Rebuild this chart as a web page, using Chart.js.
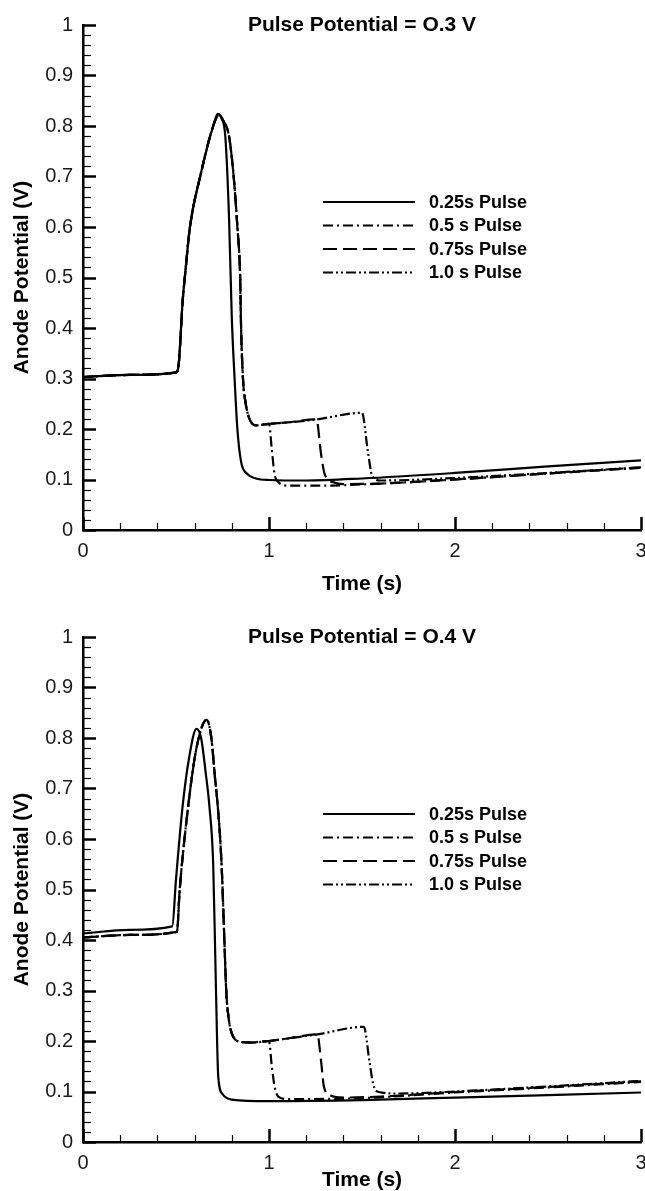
<!DOCTYPE html>
<html>
<head>
<meta charset="utf-8">
<title>Anode Potential</title>
<script src="https://cdn.jsdelivr.net/npm/chart.js@4/dist/chart.umd.min.js"></script>
<style>
  body { margin: 0; background: #fff; }
  .panel { position: absolute; left: 0; width: 645px; }
</style>
</head>
<body>
<div class="panel" style="top:0;height:595px"><canvas id="chart03"></canvas></div>
<div class="panel" style="top:595px;height:596px"><canvas id="chart04"></canvas></div>
<script>
// pulse lengths shown in both panels
const pulseLabels = ['0.25s Pulse', '0.5 s Pulse', '0.75s Pulse', '1.0 s Pulse'];

// axis marks
const timeMajor = [0, 1, 2, 3];
const timeMinorStep = 0.2;
const potMinorStep = 0.02;

// Pulse potential = 0.3 V  ->  [time (s), anode potential (V)]
const p03_025 = [[0,0.303],[0.25,0.307],[0.5,0.312],[0.515,0.33],[0.535,0.45],[0.55,0.51],[0.575,0.6],
  [0.63,0.7],[0.70,0.80],[0.725,0.824],[0.745,0.815],[0.765,0.78],[0.785,0.62],[0.80,0.42],[0.815,0.3],
  [0.83,0.2],[0.85,0.135],[0.88,0.112],[0.93,0.102],[1.0,0.099],[1.2,0.098],[1.5,0.102],[2.0,0.113],
  [2.5,0.126],[3.0,0.138]];
const p03_050 = [[0,0.303],[0.25,0.307],[0.5,0.312],[0.515,0.33],[0.535,0.45],[0.55,0.51],[0.575,0.6],
  [0.63,0.7],[0.70,0.80],[0.73,0.822],[0.755,0.81],[0.785,0.78],[0.81,0.70],[0.83,0.6],[0.845,0.5],
  [0.85,0.4],[0.86,0.3],[0.875,0.25],[0.895,0.22],[0.93,0.207],[1.0,0.21],[1.015,0.16],[1.03,0.11],
  [1.05,0.095],[1.1,0.088],[1.3,0.088],[1.6,0.092],[2.0,0.1],[2.5,0.112],[3.0,0.123]];
const p03_075 = [[0,0.303],[0.25,0.307],[0.5,0.312],[0.515,0.33],[0.535,0.45],[0.55,0.51],[0.575,0.6],
  [0.63,0.7],[0.70,0.80],[0.73,0.822],[0.755,0.81],[0.785,0.78],[0.81,0.70],[0.83,0.6],[0.845,0.5],
  [0.85,0.4],[0.86,0.3],[0.875,0.25],[0.895,0.22],[0.93,0.207],[1.0,0.21],[1.1,0.213],[1.255,0.219],
  [1.28,0.15],[1.30,0.11],[1.35,0.094],[1.4,0.091],[1.6,0.092],[2.0,0.1],[2.5,0.112],[3.0,0.124]];
const p03_100 = [[0,0.303],[0.25,0.307],[0.5,0.312],[0.515,0.33],[0.535,0.45],[0.55,0.51],[0.575,0.6],
  [0.63,0.7],[0.70,0.80],[0.73,0.822],[0.755,0.81],[0.785,0.78],[0.81,0.70],[0.83,0.6],[0.845,0.5],
  [0.85,0.4],[0.86,0.3],[0.875,0.25],[0.895,0.22],[0.93,0.207],[1.0,0.21],[1.1,0.213],[1.255,0.219],
  [1.5,0.232],[1.53,0.16],[1.555,0.107],[1.6,0.098],[2.0,0.103],[2.5,0.113],[3.0,0.124]];

// Pulse potential = 0.4 V
const p04_025 = [[0,0.413],[0.25,0.42],[0.48,0.427],[0.50,0.52],[0.535,0.663],[0.57,0.76],[0.61,0.818],
  [0.635,0.80],[0.66,0.73],[0.68,0.663],[0.70,0.55],[0.715,0.3],[0.727,0.13],[0.75,0.095],[0.8,0.084],
  [1.0,0.081],[1.5,0.083],[2.0,0.088],[2.5,0.093],[3.0,0.098]];
const p04_050 = [[0,0.405],[0.25,0.41],[0.505,0.416],[0.52,0.5],[0.565,0.663],[0.61,0.78],[0.665,0.836],
  [0.69,0.8],[0.71,0.72],[0.725,0.663],[0.745,0.55],[0.76,0.4],[0.77,0.3],[0.785,0.24],[0.80,0.215],
  [0.83,0.2],[0.9,0.197],[1.0,0.2],[1.015,0.15],[1.03,0.11],[1.05,0.09],[1.1,0.085],[1.5,0.087],
  [2.0,0.098],[2.5,0.108],[3.0,0.119]];
const p04_075 = [[0,0.405],[0.25,0.41],[0.505,0.416],[0.52,0.5],[0.565,0.663],[0.61,0.78],[0.665,0.836],
  [0.69,0.8],[0.71,0.72],[0.725,0.663],[0.745,0.55],[0.76,0.4],[0.77,0.3],[0.785,0.24],[0.80,0.215],
  [0.83,0.2],[0.9,0.197],[1.0,0.2],[1.1,0.205],[1.26,0.213],[1.28,0.16],[1.295,0.11],[1.33,0.092],
  [1.4,0.088],[1.6,0.09],[2.0,0.099],[2.5,0.109],[3.0,0.12]];
const p04_100 = [[0,0.405],[0.25,0.41],[0.505,0.416],[0.52,0.5],[0.565,0.663],[0.61,0.78],[0.665,0.836],
  [0.69,0.8],[0.71,0.72],[0.725,0.663],[0.745,0.55],[0.76,0.4],[0.77,0.3],[0.785,0.24],[0.80,0.215],
  [0.83,0.2],[0.9,0.197],[1.0,0.2],[1.1,0.205],[1.26,0.213],[1.51,0.228],[1.54,0.16],[1.56,0.115],
  [1.59,0.099],[1.7,0.096],[2.0,0.1],[2.5,0.11],[3.0,0.121]];

// line styles: solid, dash-dot, long dash, dash-dot-dot
const lineDashes = [[], [10, 4, 2, 4], [14, 6], [10, 3, 2, 3, 2, 3]];
const FONT = "'Liberation Sans', Arial, sans-serif";

// inward tick marks, panel title and legend box inside the plot
const frameDecor = {
  id: 'frameDecor',
  afterDraw(chart, args, opts) {
    const ctx = chart.ctx;
    const area = chart.chartArea;
    const xs = chart.scales.x, ys = chart.scales.y;
    ctx.save();
    ctx.strokeStyle = '#000';
    ctx.lineCap = 'butt';

    // x ticks
    for (let v = xs.min; v <= xs.max + 1e-9; v += timeMinorStep) {
      const major = timeMajor.some(m => Math.abs(m - v) < 1e-6);
      const px = Math.round(xs.getPixelForValue(v)) + 0.5;
      ctx.lineWidth = major ? 2.5 : 1.2;
      ctx.beginPath();
      ctx.moveTo(px, area.bottom);
      ctx.lineTo(px, area.bottom - (major ? 13 : 7));
      ctx.stroke();
    }
    // y ticks
    for (let i = 0; i <= Math.round((ys.max - ys.min) / potMinorStep); i++) {
      const v = ys.min + i * potMinorStep;
      const major = i % 5 === 0;
      const py = Math.round(ys.getPixelForValue(v)) + 0.5;
      ctx.lineWidth = major ? 2.5 : 1.2;
      ctx.beginPath();
      ctx.moveTo(area.left, py);
      ctx.lineTo(area.left + (major ? 13 : 8), py);
      ctx.stroke();
    }

    // title
    ctx.fillStyle = '#000';
    ctx.font = 'bold 21px ' + FONT;
    ctx.textAlign = 'center';
    ctx.textBaseline = 'middle';
    ctx.fillText(opts.title, (area.left + area.right) / 2, area.top);

    // legend
    ctx.font = 'bold 18px ' + FONT;
    ctx.textAlign = 'left';
    chart.data.datasets.forEach((ds, i) => {
      const y = area.top + 177 + i * 23.5;
      const x0 = area.left + 240;
      ctx.lineWidth = 2.2;
      ctx.setLineDash(ds.borderDash);
      ctx.beginPath();
      ctx.moveTo(x0, y);
      ctx.lineTo(x0 + 92, y);
      ctx.stroke();
      ctx.setLineDash([]);
      ctx.fillText(ds.label, x0 + 106, y + 1);
    });
    ctx.restore();
  }
};

function buildDatasets(series) {
  return series.map((pts, i) => ({
    label: pulseLabels[i],
    data: pts.map(([t, v]) => ({ x: t, y: v })),
    borderColor: '#000',
    borderWidth: 2.2,
    borderDash: lineDashes[i],
    pointRadius: 0,
    fill: false,
    cubicInterpolationMode: 'monotone'
  }));
}

function drawPanel(canvasId, title, series, padTop, xAxisHeight, xTitlePad) {
  new Chart(document.getElementById(canvasId), {
    type: 'line',
    data: { datasets: buildDatasets(series) },
    options: {
      responsive: true,
      maintainAspectRatio: false,
      animation: false,
      events: [],
      layout: { padding: { top: padTop, right: 4, left: 0, bottom: 0 } },
      plugins: {
        legend: { display: false },
        tooltip: { enabled: false },
        frameDecor: { title: title }
      },
      scales: {
        x: {
          type: 'linear',
          min: 0,
          max: 3,
          afterFit: s => { s.height = xAxisHeight; s.paddingLeft = 0; s.paddingRight = 0; },
          grid: { display: false, drawTicks: false },
          border: { display: true, color: '#000', width: 2.5 },
          ticks: { stepSize: 1, padding: 9, color: '#1a1a1a', font: { family: FONT, size: 20 } },
          title: {
            display: true, text: 'Time (s)', color: '#000',
            font: { family: FONT, size: 21, weight: 'bold', lineHeight: 1 },
            padding: { top: xTitlePad, bottom: 0 }
          }
        },
        y: {
          min: 0,
          max: 1,
          afterFit: s => { s.width = 83; },
          grid: { display: false, drawTicks: false },
          border: { display: true, color: '#000', width: 2.5 },
          ticks: {
            stepSize: 0.1, padding: 10, color: '#1a1a1a', font: { family: FONT, size: 20 },
            callback: v => String(Number(v.toFixed(1)))
          },
          title: {
            display: true, text: 'Anode Potential (V)', color: '#000',
            font: { family: FONT, size: 21, weight: 'bold', lineHeight: 1 },
            padding: { top: 12, bottom: 0 }
          }
        }
      }
    },
    plugins: [frameDecor]
  });
}

drawPanel('chart03', 'Pulse Potential = O.3 V', [p03_025, p03_050, p03_075, p03_100], 25, 65, 14);
drawPanel('chart04', 'Pulse Potential = O.4 V', [p04_025, p04_050, p04_075, p04_100], 42, 49, 1);
</script>
</body>
</html>
